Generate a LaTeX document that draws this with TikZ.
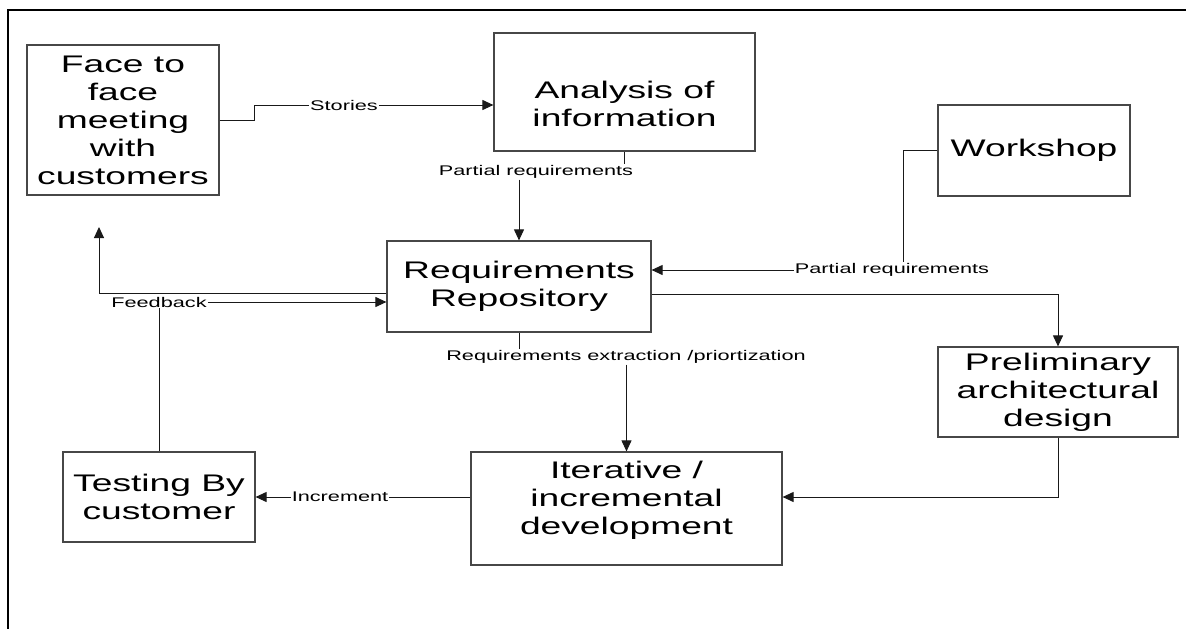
\documentclass[tikz,border=0pt]{standalone}
\usepackage{fontspec}
\usetikzlibrary{arrows.meta,calc}
\newfontfamily\diagfont[FakeStretch=1.55]{Liberation Sans}
\begin{document}
\begin{tikzpicture}[x=1pt,y=-1pt,
  box/.style={draw=black!72,line width=1.2pt,rectangle,inner sep=0pt,align=center,
    font=\diagfont\fontsize{24}{28}\selectfont},
  boxtext/.style={inner sep=0pt,align=center,font=\diagfont\fontsize{24}{28}\selectfont},
  lbl/.style={inner sep=1pt,font=\diagfont\fontsize{14}{16}\selectfont},
  conn/.style={draw=black!90,line width=1pt},
  arr/.style={conn,-{Triangle[length=11pt,width=10pt]}}]
\useasboundingbox (0,0) rectangle (1186,629);
% outer frame
\draw[line width=2.5pt] (8,629) -- (8,10) -- (1186,10);

% process boxes
\node[box,minimum width=192,minimum height=150] (face) at (123,120)
  {Face to\\face\\meeting\\with\\customers};
\node[box,minimum width=261,minimum height=118] (ana) at (624.5,92) {};
\node[boxtext] (anatext) at (624.5,104) {Analysis of\\information};
\node[box,minimum width=192,minimum height=91] (work) at (1034,150.5) {Workshop};
\node[box,minimum width=264,minimum height=91] (req) at (519,286.5)
  {Requirements\\Repository};
\node[box,minimum width=240,minimum height=90] (pre) at (1058,392)
  {Preliminary\\architectural\\design};
\node[box,minimum width=311,minimum height=113] (iter) at (626.5,508.5) {};
\node[boxtext] (itertext) at (626.5,500) {Iterative /\\incremental\\development};
\node[box,minimum width=192,minimum height=90] (test) at (159,497)
  {Testing By\\customer};

% connector labels
\node[lbl] (stories) at (344,105) {Stories};
\node[lbl] (pr1) at (536,172) {Partial requirements};
\node[lbl] (pr2) at (892,270) {Partial requirements};
\node[lbl] (rx) at (626,357) {Requirements extraction /priortization};
\node[lbl] (inc) at (340,497) {Increment};
\node[lbl] (fb) at (159,302) {Feedback};
\coordinate (facetip) at (99,227);

% face meeting -> analysis
\draw[conn] (face.east) -- (254,120) -- (254,105) -- (stories.west);
\draw[arr] (stories.east) -- (ana.west |- stories);
% analysis -> repository
\draw[conn] (ana.south) -- (ana.south |- pr1.north);
\draw[arr] (pr1.south -| req.north) -- (req.north);
% workshop -> repository
\draw[conn] (work.west) -- (903,150.5) -- (pr2.north -| 903,0);
\draw[arr] (pr2.west) -- (req.east |- pr2);
% repository -> preliminary design
\draw[arr] ([yshift=-7.5pt]req.east) -| (pre.north);
% preliminary design -> iterative development
\draw[arr] (pre.south) |- ([yshift=11.5pt]iter.east);
% repository -> iterative development
\draw[conn] (req.south) -- (req.south |- rx.north);
\draw[arr] (rx.south -| iter.north) -- (iter.north);
% iterative development -> testing
\draw[conn] (iter.west |- test.east) -- (inc.east);
\draw[arr] (inc.west) -- (test.east);
% testing -> repository (feedback)
\draw[conn] (test.north) -- (fb.south);
\draw[arr] (fb.east) -- (fb.east -| req.west);
% repository -> face meeting
\draw[arr] ([yshift=-6.5pt]req.west) -| (facetip);
\end{tikzpicture}
\end{document}
